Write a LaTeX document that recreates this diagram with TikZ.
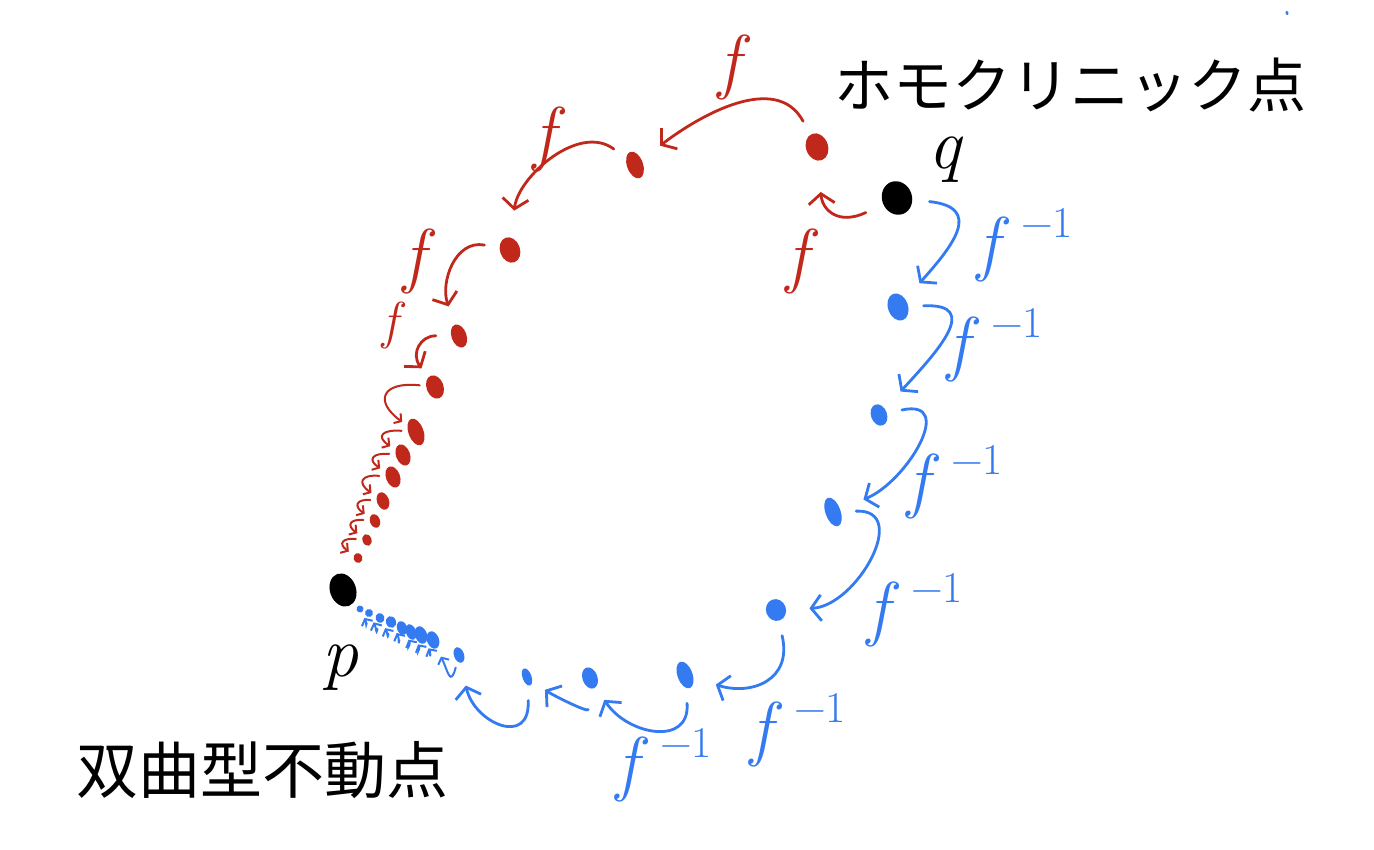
\documentclass[tikz,border=0pt]{standalone}
\usepackage{fontspec}
\newfontfamily\jpfont{Noto Sans CJK JP}
\usetikzlibrary{shapes.geometric}
\usetikzlibrary{arrows.meta}

\definecolor{orbitred}{RGB}{192,40,28}
\definecolor{orbitblue}{RGB}{52,122,240}
\newcommand{\fmap}{\textit{f}}
\newcommand{\finv}{\textit{f}\,\raisebox{0.42em}{\fontsize{44}{46}\selectfont −1}}

\begin{document}
\begin{tikzpicture}[
    x=1pt, y=-1pt,
    line width=2.8pt,
    line cap=round,
    >={Straight Barb[length=10pt,width=26pt]}
]
\tikzstyle{orbit}=[ellipse, fill, inner sep=0pt, rotate=20]
\tikzstyle{fwd}=[->, orbitred, shorten <=14pt, shorten >=14pt]
\tikzstyle{bwd}=[->, orbitblue, shorten <=14pt, shorten >=14pt]
\tikzstyle{tiny}=[line width=2pt, >={Straight Barb[length=5pt,width=12pt]}, shorten <=5pt, shorten >=5pt]
\tikzstyle{lab}=[inner sep=0pt, font=\fontsize{72}{76}\selectfont]
\tikzstyle{title}=[inner sep=0pt, font=\jpfont\fontsize{59}{64}\selectfont]

\useasboundingbox (0,0) rectangle (1374,850);

% Fixed point and homoclinic point
\node[orbit, black, minimum width=26pt, minimum height=34pt] (p) at (343,590) {};
\node[orbit, black, minimum width=30pt, minimum height=34pt] (q) at (897,198) {};
\node[lab] (plab) at (340,668) {\textit{p}};
\node[lab] (qlab) at (946,160) {\textit{q}};
\node[title] (homo) at (1070,85) {ホモクリニック点};
\node[title, font=\jpfont\fontsize{62}{66}\selectfont] (hyp) at (262,770) {双曲型不動点};

% Forward orbit of q (red)
\node[orbit, orbitred, minimum width=22pt, minimum height=28pt] (r1) at (817,147) {};
\node[orbit, orbitred, minimum width=16pt, minimum height=28pt] (r2) at (635,165) {};
\node[orbit, orbitred, minimum width=20pt, minimum height=26pt] (r3) at (510,250) {};
\node[orbit, orbitred, minimum width=15pt, minimum height=24pt] (r4) at (459,336) {};
\node[orbit, orbitred, minimum width=17pt, minimum height=24pt] (r5) at (435,387) {};
\node[orbit, orbitred, minimum width=15pt, minimum height=28pt] (r6) at (416,432) {};
\node[orbit, orbitred, minimum width=14pt, minimum height=22pt] (r7) at (403,455) {};
\node[orbit, orbitred, minimum width=14pt, minimum height=22pt] (r8) at (393,477) {};
\node[orbit, orbitred, minimum width=12pt, minimum height=18pt] (r9) at (383,501) {};
\node[orbit, orbitred, minimum width=10pt, minimum height=14pt] (r10) at (375,521) {};
\node[orbit, orbitred, minimum width=9pt, minimum height=12pt] (r11) at (367,540) {};
\node[orbit, orbitred, minimum width=9pt, minimum height=10pt] (r12) at (358,558) {};

\draw[fwd, shorten <=18pt, shorten >=30pt] (q) to[out=200, in=-90, looseness=1.6] (r1);
\draw[fwd, shorten >=22pt] (r1) to[out=115, in=35, looseness=1.1] (r2);
\draw[fwd, shorten >=26pt] (r2) to[out=140, in=80, looseness=1.1] (r3);
\draw[fwd, shorten >=18pt] (r3) to[out=165, in=105, looseness=1.3] (r4);
\draw[fwd, shorten >=10pt] (r4) to[out=175, in=120, looseness=1.6] (r5);
\draw[fwd, tiny] (r5) to[out=170, in=140, looseness=2.5] (r6);
\draw[fwd, tiny] (r6) to[out=170, in=140, looseness=2.8] (r7);
\draw[fwd, tiny] (r7) to[out=170, in=140, looseness=2.8] (r8);
\draw[fwd, tiny] (r8) to[out=170, in=140, looseness=2.8] (r9);
\draw[fwd, tiny] (r9) to[out=170, in=140, looseness=2.8] (r10);
\draw[fwd, tiny] (r10) to[out=170, in=140, looseness=2.8] (r11);
\draw[fwd, tiny] (r11) to[out=170, in=140, looseness=2.8] (r12);

\node[lab, orbitred] (rf1) at (803,262) {\fmap};
\node[lab, orbitred] (rf2) at (735,68) {\fmap};
\node[lab, orbitred] (rf3) at (550,140) {\fmap};
\node[lab, orbitred] (rf4) at (420,262) {\fmap};
\node[lab, orbitred, font=\fontsize{52}{56}\selectfont] (rf5) at (394,326) {\fmap};

% Backward orbit of q (blue)
\node[orbit, orbitblue, minimum width=20pt, minimum height=28pt] (b1) at (898,307) {};
\node[orbit, orbitblue, minimum width=16pt, minimum height=22pt] (b2) at (879,415) {};
\node[orbit, orbitblue, minimum width=15pt, minimum height=30pt] (b3) at (833,512) {};
\node[orbit, orbitblue, minimum width=20pt, minimum height=22pt] (b4) at (776,610) {};
\node[orbit, orbitblue, minimum width=15pt, minimum height=28pt] (b5) at (685,675) {};
\node[orbit, orbitblue, minimum width=15pt, minimum height=22pt] (b6) at (590,678) {};
\node[orbit, orbitblue, minimum width=9pt, minimum height=18pt] (b7) at (527,677) {};
\node[orbit, orbitblue, minimum width=10pt, minimum height=16pt] (b8) at (459,655) {};
\node[orbit, orbitblue, minimum width=12pt, minimum height=18pt] (b9) at (433,640) {};
\node[orbit, orbitblue, minimum width=12pt, minimum height=18pt] (b10) at (421,635) {};
\node[orbit, orbitblue, minimum width=10pt, minimum height=16pt] (b11) at (411,632) {};
\node[orbit, orbitblue, minimum width=10pt, minimum height=14pt] (b12) at (402,628) {};
\node[orbit, orbitblue, minimum width=10pt, minimum height=12pt] (b13) at (391,622) {};
\node[orbit, orbitblue, minimum width=9pt, minimum height=10pt] (b14) at (380,618) {};
\node[orbit, orbitblue, minimum width=8pt, minimum height=8pt] (b15) at (369,613) {};
\node[orbit, orbitblue, minimum width=7pt, minimum height=7pt] (b16) at (360,609) {};
\node[orbit, orbitblue, minimum width=3pt, minimum height=4pt] (speck) at (1287,13) {};

\draw[bwd, shorten <=16pt, shorten >=20pt] (q) to[out=-10, in=45, looseness=1.8] (b1);
\draw[bwd, shorten >=22pt] (b1) to[out=0, in=45, looseness=1.8] (b2);
\draw[bwd, shorten >=24pt] (b2) to[out=10, in=20, looseness=1.7] (b3);
\draw[bwd, shorten >=22pt] (b3) to[out=0, in=0, looseness=1.6] (b4);
\draw[bwd, shorten >=22pt] (b4) to[out=-80, in=-20, looseness=1.5] (b5);
\draw[bwd, shorten >=14pt] (b5) to[out=-90, in=-60, looseness=1.6] (b6);
\draw[bwd, shorten <=20pt, shorten >=14pt] (b6) to[out=-100, in=-40, looseness=1] (b7);
\draw[bwd, shorten >=22pt] (b7) to[out=-90, in=-80, looseness=2.2] (b8);
\draw[bwd, tiny, shorten >=8pt] (b8) to[out=-110, in=-70, looseness=2.5] (b9);
\draw[bwd, tiny] (b9) to[out=-110, in=-70, looseness=3] (b10);
\draw[bwd, tiny] (b10) to[out=-110, in=-70, looseness=3.2] (b11);
\draw[bwd, tiny] (b11) to[out=-110, in=-70, looseness=3.2] (b12);
\draw[bwd, tiny] (b12) to[out=-110, in=-70, looseness=3] (b13);
\draw[bwd, tiny] (b13) to[out=-110, in=-70, looseness=3] (b14);
\draw[bwd, tiny] (b14) to[out=-110, in=-70, looseness=3] (b15);
\draw[bwd, tiny] (b15) to[out=-110, in=-70, looseness=3] (b16);

\node[lab, orbitblue] (bf1) at (1025,245) {\finv};
\node[lab, orbitblue] (bf2) at (995,345) {\finv};
\node[lab, orbitblue] (bf3) at (955,482) {\finv};
\node[lab, orbitblue] (bf4) at (915,610) {\finv};
\node[lab, orbitblue] (bf5) at (798,730) {\finv};
\node[lab, orbitblue] (bf6) at (664,765) {\finv};

\end{tikzpicture}
\end{document}
